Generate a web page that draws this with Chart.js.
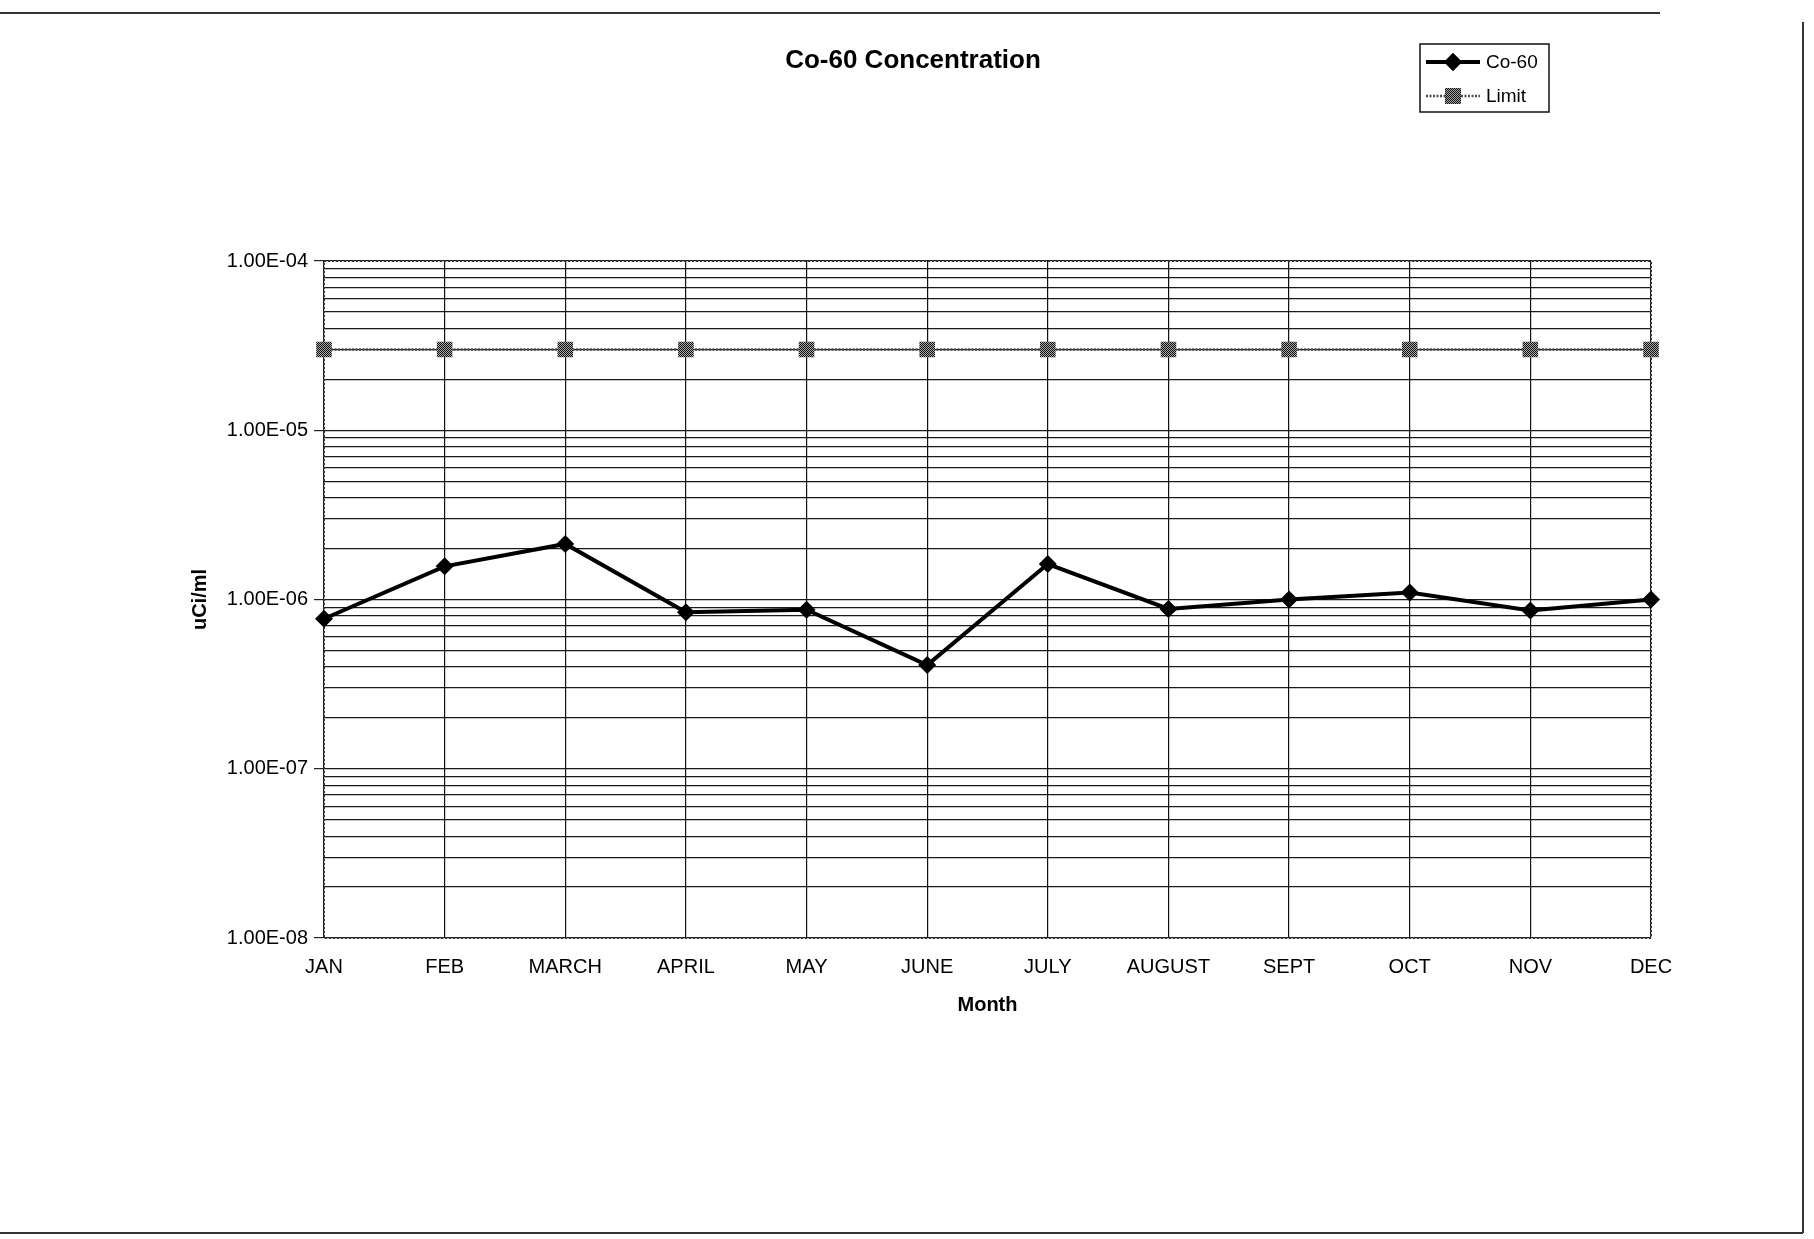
<!DOCTYPE html>
<html>
<head>
<meta charset="utf-8">
<title>Co-60 Concentration</title>
<script src="https://cdn.jsdelivr.net/npm/chart.js@4.4.1/dist/chart.umd.min.js"></script>
<style>
  html, body { margin: 0; padding: 0; background: #fff; }
  #chart { display: block; }
</style>
</head>
<body>
<canvas id="chart" width="1814" height="1239"></canvas>
<script>
// values (uCi/ml)
const months = ['JAN', 'FEB', 'MARCH', 'APRIL', 'MAY', 'JUNE', 'JULY', 'AUGUST', 'SEPT', 'OCT', 'NOV', 'DEC'];
const co60Values = [7.7e-7, 1.57e-6, 2.13e-6, 8.4e-7, 8.7e-7, 4.1e-7, 1.62e-6, 8.8e-7, 1.0e-6, 1.1e-6, 8.6e-7, 1.0e-6];
const limitValues = [3.0e-5, 3.0e-5, 3.0e-5, 3.0e-5, 3.0e-5, 3.0e-5, 3.0e-5, 3.0e-5, 3.0e-5, 3.0e-5, 3.0e-5, 3.0e-5];
const yDecades = [-8, -7, -6, -5, -4];
const yTickLabels = ['1.00E-08', '1.00E-07', '1.00E-06', '1.00E-05', '1.00E-04'];

const FONT = '"Liberation Sans", Arial, Helvetica, sans-serif';
const canvas = document.getElementById('chart');
const ctx = canvas.getContext('2d');

// grey "halftone" fill like the scanned Limit markers
function hatchPattern() {
    const c = document.createElement('canvas');
    c.width = 2;
    c.height = 2;
    const g = c.getContext('2d');
    g.fillStyle = '#a8a8a8';
    g.fillRect(0, 0, 2, 2);
    g.fillStyle = '#111';
    g.fillRect(0, 0, 1, 1);
    g.fillRect(1, 1, 1, 1);
    return ctx.createPattern(c, 'repeat');
}
const hatch = hatchPattern();

function decadeIndex(value) {
    return yDecades.findIndex(e => Math.abs(Math.log10(value) - e) < 1e-6);
}

const decorations = {
    id: 'decorations',
    beforeDatasetsDraw(chart) {
        // dotted plot-area frame
        const { ctx, chartArea: a } = chart;
        ctx.save();
        ctx.strokeStyle = '#333';
        ctx.lineWidth = 2;
        ctx.setLineDash([2, 2]);
        ctx.strokeRect(a.left, a.top, a.right - a.left, a.bottom - a.top);
        ctx.restore();
    },
    afterDraw(chart) {
        const { ctx } = chart;
        ctx.save();

        // page frame from the scan
        ctx.strokeStyle = '#333';
        ctx.lineWidth = 2;
        ctx.beginPath();
        ctx.moveTo(0, 13);
        ctx.lineTo(1660, 13);
        ctx.moveTo(1803, 22);
        ctx.lineTo(1803, 1233);
        ctx.moveTo(0, 1233);
        ctx.lineTo(1803, 1233);
        ctx.stroke();

        // title
        ctx.fillStyle = '#000';
        ctx.font = 'bold 26px ' + FONT;
        ctx.textAlign = 'center';
        ctx.textBaseline = 'middle';
        ctx.fillText('Co-60 Concentration', 913, 61);

        // legend box
        const box = { x: 1420, y: 44, w: 129, h: 68 };
        ctx.lineWidth = 1.5;
        ctx.strokeStyle = '#111';
        ctx.strokeRect(box.x, box.y, box.w, box.h);

        ctx.font = '19px ' + FONT;
        ctx.textAlign = 'left';
        chart.data.datasets.forEach((ds, i) => {
            const y = box.y + 18 + i * 34;
            ctx.save();
            ctx.strokeStyle = ds.borderColor;
            ctx.lineWidth = ds.borderWidth;
            ctx.setLineDash(ds.borderDash || []);
            ctx.beginPath();
            ctx.moveTo(box.x + 6, y);
            ctx.lineTo(box.x + 60, y);
            ctx.stroke();
            ctx.restore();
            Chart.helpers.drawPoint(ctx, {
                pointStyle: ds.pointStyle,
                radius: ds.pointRadius,
                borderWidth: 0
            }, box.x + 33, y);
            ctx.fillStyle = ds.pointBackgroundColor;
            ctx.fill();
            ctx.fillStyle = '#000';
            ctx.fillText(ds.label, box.x + 66, y + 1);
        });
        ctx.restore();
    }
};

new Chart(ctx, {
    type: 'line',
    data: {
        labels: months,
        datasets: [
            {
                label: 'Co-60',
                data: co60Values,
                borderColor: '#000',
                borderWidth: 4,
                pointStyle: 'rectRot',
                pointRadius: 9,
                pointBackgroundColor: '#000',
                pointBorderColor: '#000',
                pointBorderWidth: 0,
                tension: 0,
                clip: false
            },
            {
                label: 'Limit',
                data: limitValues,
                borderColor: '#4a4a4a',
                borderWidth: 2.5,
                borderDash: [2, 1.5],
                pointStyle: 'rect',
                pointRadius: 11,
                pointBackgroundColor: hatch,
                pointBorderColor: '#555',
                pointBorderWidth: 0,
                tension: 0,
                clip: false
            }
        ]
    },
    options: {
        responsive: false,
        animation: false,
        devicePixelRatio: 1,
        layout: { padding: { top: 261, right: 163, bottom: 0, left: 0 } },
        plugins: {
            legend: { display: false },
            title: { display: false },
            tooltip: { enabled: false }
        },
        scales: {
            x: {
                type: 'category',
                offset: false,
                afterFit: s => { s.height = 301; },
                grid: { color: '#111', lineWidth: 1.2, drawTicks: false },
                border: { display: false },
                ticks: {
                    color: '#000',
                    font: { family: FONT, size: 20 },
                    padding: 17,
                    maxRotation: 0,
                    autoSkip: false
                },
                title: {
                    display: true,
                    text: 'Month',
                    color: '#000',
                    font: { family: FONT, size: 20, weight: 'bold' },
                    padding: { top: 0, bottom: 222 }
                }
            },
            y: {
                type: 'logarithmic',
                min: 1e-8,
                max: 1e-4,
                afterFit: s => { s.width = 324; },
                afterBuildTicks: s => {
                    const ticks = [];
                    yDecades.forEach((e, i) => {
                        if (i === yDecades.length - 1) {
                            ticks.push({ value: Math.pow(10, e) });
                            return;
                        }
                        for (let m = 1; m <= 9; m++) ticks.push({ value: m * Math.pow(10, e) });
                    });
                    s.ticks = ticks;
                },
                grid: {
                    color: '#1a1a1a',
                    lineWidth: 1.2,
                    tickLength: 10,
                    tickColor: c => (c.tick && decadeIndex(c.tick.value) >= 0 ? '#222' : 'rgba(0,0,0,0)')
                },
                border: { display: false },
                ticks: {
                    color: '#000',
                    font: { family: FONT, size: 20 },
                    padding: 6,
                    autoSkip: false,
                    callback: value => {
                        const i = decadeIndex(value);
                        return i >= 0 ? yTickLabels[i] : '';
                    }
                },
                title: {
                    display: true,
                    text: 'uCi/ml',
                    color: '#000',
                    font: { family: FONT, size: 20, weight: 'bold' },
                    padding: { top: 188, bottom: 0 }
                }
            }
        }
    },
    plugins: [decorations]
});
</script>
</body>
</html>
